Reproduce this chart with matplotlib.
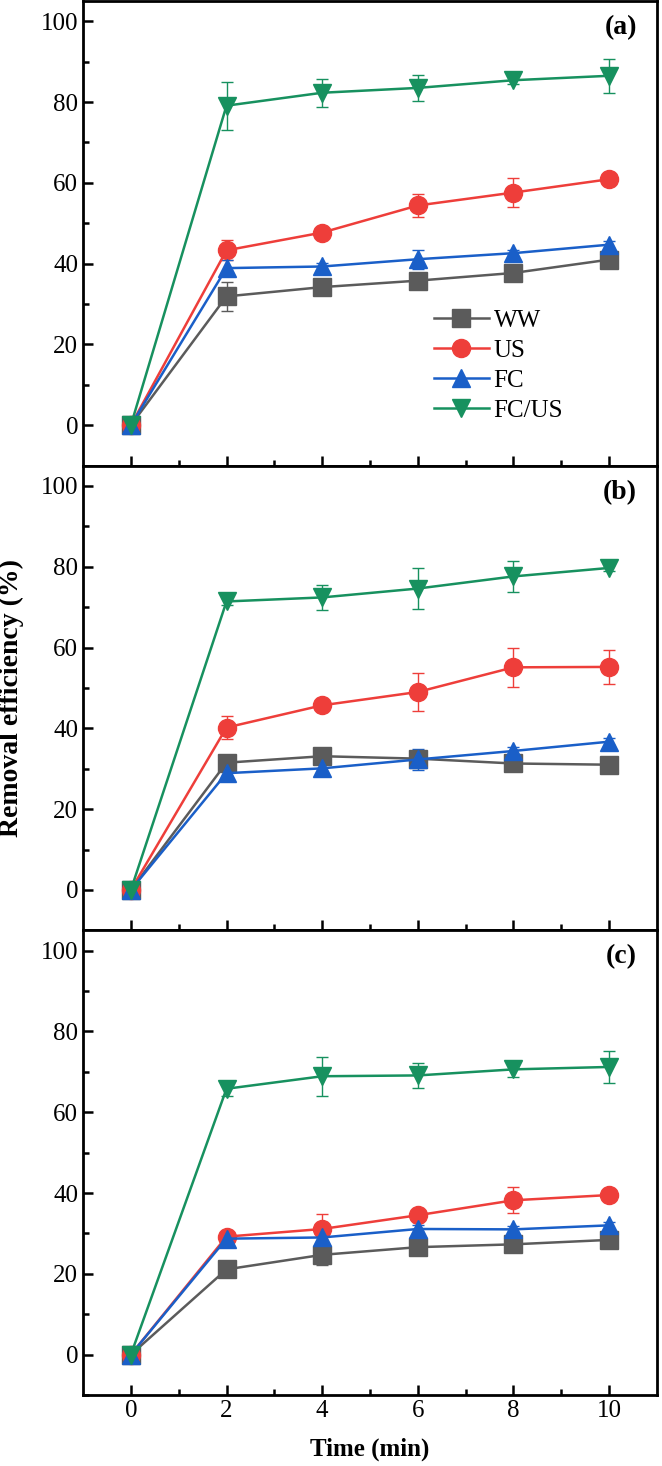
import numpy as np
import matplotlib.pyplot as plt

plt.rcParams['font.family'] = ['Liberation Serif', 'DejaVu Serif']

time = [0, 2, 4, 6, 8, 10]
series = ['WW', 'US', 'FC', 'FC/US']
colors = ['#5b5b5b', '#ee3e3a', '#1a5fc8', '#17915f']
markers = ['s', 'o', '^', 'v']
panels = ['(a)', '(b)', '(c)']

# panel (a)
a_ww = [0, 31.9, 34.2, 35.8, 37.7, 41.0]
a_us = [0, 43.3, 47.7, 54.4, 57.6, 60.9]
a_fc = [0, 38.9, 39.3, 41.1, 42.6, 44.7]
a_fcus = [0, 79.1, 82.3, 83.5, 85.4, 86.5]
a_ww_err = [0, 3.6, 0.8, 1.0, 0.8, 0.8]
a_us_err = [0, 2.5, 0.8, 2.8, 3.6, 1.0]
a_fc_err = [0, 2.0, 0.8, 2.3, 0.8, 0.8]
a_fcus_err = [0, 5.9, 3.5, 3.2, 1.0, 4.2]

# panel (b)
b_ww = [0, 31.5, 33.1, 32.5, 31.3, 31.0]
b_us = [0, 40.2, 45.7, 49.0, 55.1, 55.2]
b_fc = [0, 28.9, 30.1, 32.3, 34.4, 36.7]
b_fcus = [0, 71.4, 72.4, 74.6, 77.6, 79.7]
b_ww_err = [0, 0.8, 0.8, 1.5, 0.8, 0.8]
b_us_err = [0, 2.9, 0.8, 4.6, 4.8, 4.2]
b_fc_err = [0, 0.8, 1.5, 2.5, 1.0, 0.8]
b_fcus_err = [0, 0.8, 3.0, 5.1, 3.9, 0.8]

# panel (c)
c_ww = [0, 21.1, 24.7, 26.6, 27.3, 28.4]
c_us = [0, 29.2, 31.1, 34.5, 38.2, 39.5]
c_fc = [0, 28.7, 29.0, 31.1, 31.0, 32.0]
c_fcus = [0, 65.8, 68.9, 69.1, 70.6, 71.2]
c_ww_err = [0, 1.0, 2.5, 0.8, 0.8, 0.8]
c_us_err = [0, 1.0, 3.8, 0.8, 3.2, 0.8]
c_fc_err = [0, 1.5, 1.5, 1.0, 0.8, 0.8]
c_fcus_err = [0, 1.8, 4.8, 3.0, 2.0, 4.0]

data = [
    ([a_ww, a_us, a_fc, a_fcus], [a_ww_err, a_us_err, a_fc_err, a_fcus_err]),
    ([b_ww, b_us, b_fc, b_fcus], [b_ww_err, b_us_err, b_fc_err, b_fcus_err]),
    ([c_ww, c_us, c_fc, c_fcus], [c_ww_err, c_us_err, c_fc_err, c_fcus_err]),
]

fig, axes = plt.subplots(3, 1, figsize=(6.62, 14.66), dpi=100, sharex=True)
fig.subplots_adjust(left=0.1254, right=0.9924, top=0.9993, bottom=0.0484, hspace=0)

handles = []
for i, (ax, (vals, errs), tag) in enumerate(zip(axes, data, panels)):
    for v, e, name, c, m in zip(vals, errs, series, colors, markers):
        eb = ax.errorbar(time, v, yerr=e, color=c, marker=m, markersize=13, lw=1.8,
                         elinewidth=1.0, capsize=4, capthick=1.0)
        if i == 0:
            handles.append(eb[0])
    ax.set_xlim(-1, 11)
    ax.set_ylim(-10, 105)
    ax.set_yticks(np.arange(0, 101, 20))
    ax.set_yticks(np.arange(-10, 105, 10), minor=True)
    ax.set_xticks(np.arange(0, 11, 2))
    ax.set_xticks(np.arange(1, 11, 2), minor=True)
    ax.tick_params(which='both', direction='in', labelsize=18, width=1.8)
    ax.tick_params(which='major', length=7)
    ax.tick_params(which='minor', length=4)
    for s in ax.spines.values():
        s.set_linewidth(2)
    ax.text(0.965, 0.97, tag, transform=ax.transAxes, ha='right', va='top',
            fontsize=20, fontweight='bold')

axes[0].legend(handles, series, loc='upper left', bbox_to_anchor=(0.589, 0.363),
               frameon=False, fontsize=18, handlelength=2.2, handletextpad=0.2,
               labelspacing=0.3, borderpad=0)
axes[1].set_ylabel('Removal efficiency (%)', fontsize=20, fontweight='bold', labelpad=12)
axes[2].set_xlabel('Time (min)', fontsize=18, fontweight='bold', labelpad=11)

fig.savefig('out.png', dpi=100)
